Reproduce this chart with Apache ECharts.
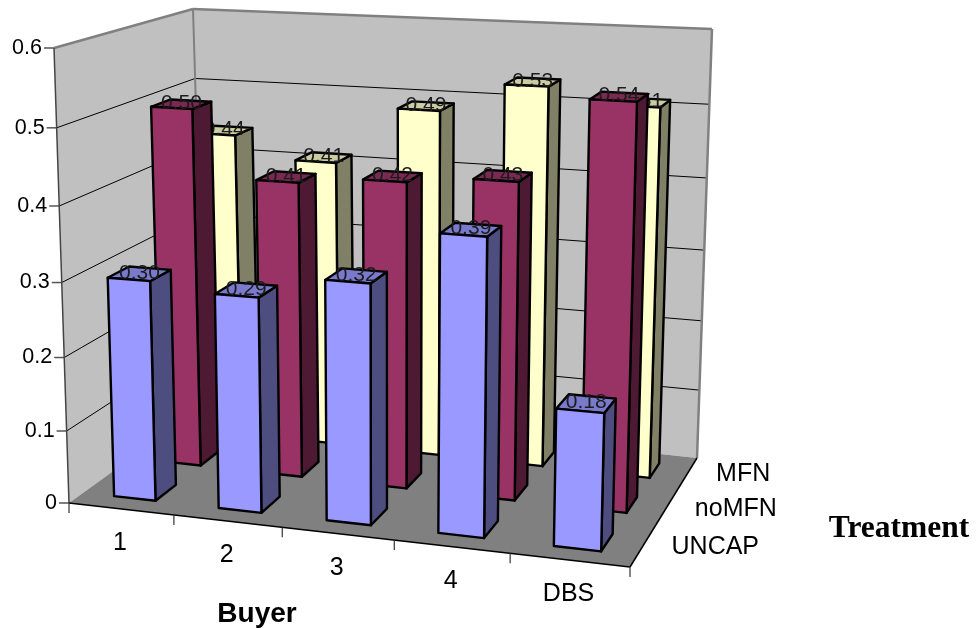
<!DOCTYPE html>
<html>
<head>
<meta charset="utf-8">
<style>html,body{margin:0;padding:0;background:#fff}#chart{width:978px;height:628px}</style>
<script src="https://cdn.jsdelivr.net/npm/echarts@6/dist/echarts.min.js"></script>
</head>
<body>
<div id="chart"></div>
<script>
// Buyer categories, treatments (front to back) and mean values per treatment
const buyers = ['1', '2', '3', '4', 'DBS'];
const treatments = ['UNCAP', 'noMFN', 'MFN'];
const uncapValues = [0.30, 0.29, 0.32, 0.39, 0.18];
const noMfnValues = [0.50, 0.41, 0.42, 0.43, 0.54];
const mfnValues = [0.44, 0.41, 0.49, 0.53, 0.51];
const valueTicks = [0, 0.1, 0.2, 0.3, 0.4, 0.5, 0.6];

// Screen corners of the 3D plot box: [buyer end][height][depth]
const box = [
  [[[69, 503], [205, 405]], [[54, 48], [193, 9]]],
  [[[630, 567], [697, 458]], [[642, 77], [712, 29]]]
];
const persp = { x: -0.08, y: -0.06, z: 0.15 };

// Perspective-weighted projection of a unit-cube point (t along buyers, h up, d back)
function project(t, h, d) {
  let sx = 0, sy = 0, sw = 0;
  for (let i = 0; i < 2; i++) for (let j = 0; j < 2; j++) for (let k = 0; k < 2; k++) {
    const b = (i ? t : 1 - t) * (j ? h : 1 - h) * (k ? d : 1 - d);
    const w = b * (1 + persp.x * i) * (1 + persp.y * j) * (1 + persp.z * k);
    sx += box[i][j][k][0] * w; sy += box[i][j][k][1] * w; sw += w;
  }
  return [sx / sw, sy / sw];
}

const font = (size, weight, family) =>
  `${weight || 'normal'} ${size}px ${family || '"Liberation Sans", Arial, sans-serif'}`;

function text(str, x, y, size, opts) {
  opts = opts || {};
  return {
    type: 'text',
    style: {
      text: str, x, y,
      fill: opts.fill || '#000',
      font: font(size, opts.weight, opts.family),
      align: opts.align || 'center',
      verticalAlign: 'middle'
    }
  };
}
const poly = (points, fill, stroke, lw) => ({
  type: 'polygon',
  shape: { points },
  style: { fill, stroke: stroke || 'none', lineWidth: lw || 0, lineJoin: 'round' }
});
const line = (a, b, stroke, lw) => ({
  type: 'line',
  shape: { x1: a[0], y1: a[1], x2: b[0], y2: b[1] },
  style: { stroke, lineWidth: lw }
});

const heightOf = (api, v) => 1 - api.coord([0, v])[1] / api.getHeight();
const buyerT = (api, i) => api.coord([i, 0])[0] / api.getWidth();

function renderFrame(params, api) {
  const c = [];
  const P = project;
  c.push(poly([P(0,0,0), P(0,1,0), P(0,1,1), P(0,0,1)], '#c0c0c0'));
  c.push(poly([P(0,0,1), P(0,1,1), P(1,1,1), P(1,0,1)], '#c0c0c0'));
  c.push(poly([P(0,0,0), P(0,0,1), P(1,0,1), P(1,0,0)], '#808080'));

  valueTicks.forEach(v => {
    const h = heightOf(api, v);
    const front = P(0, h, 0);
    if (v > 0 && v < 0.6) {
      c.push(line(front, P(0, h, 1), '#000', 1));
      c.push(line(P(0, h, 1), P(1, h, 1), '#000', 1));
    }
    c.push(line([front[0] - 10, front[1]], front, '#555', 1.5));
    c.push(text(v === 0 ? '0' : v.toFixed(1), front[0] - 12, front[1], 21.5, { align: 'right' }));
  });

  c.push(line(P(0,1,0), P(0,1,1), '#808080', 2.5));
  c.push(line(P(0,1,1), P(1,1,1), '#808080', 2.5));
  c.push(line(P(0,0,1), P(0,1,1), '#808080', 2));
  c.push(line(P(1,0,1), P(1,1,1), '#808080', 2.5));
  c.push(line(P(0,0,0), P(0,1,0), '#444', 1.5));
  c.push(line(P(0,0,0), P(1,0,0), '#000', 1.5));
  c.push(line(P(1,0,0), P(1,0,1), '#000', 1.5));

  for (let i = 0; i <= buyers.length; i++) {
    const p = P(i / buyers.length, 0, 0);
    c.push(line(p, [p[0], p[1] + 10], '#333', 1.2));
  }
  buyers.forEach((name, i) => {
    const p = P(buyerT(api, i), 0, 0);
    c.push(text(name, p[0] - 1, p[1] + 34.5, 25));
  });
  treatments.forEach((name, i) => {
    const p = P(1, 0, (i + 0.5) / treatments.length);
    c.push(text(name, p[0] + 29, p[1], 25, { align: 'left' }));
  });
  c.push(text('Buyer', 257, 614, 28, { weight: 'bold' }));
  c.push(text('Treatment', 899, 529, 31.5, { weight: 'bold', family: '"Liberation Serif", "Times New Roman", serif' }));
  return { type: 'group', children: c };
}

// One 3D column: front, top and right faces with the value printed over the top
function barRenderer(row, colors) {
  return function (params, api) {
    const band = api.size([1, 0])[0] / api.getWidth();
    const v = api.value(1);
    const tc = buyerT(api, api.value(0));
    const t0 = tc - band * 0.2, t1 = tc + band * 0.2;
    const cell = 1 / treatments.length;
    const d0 = (row + 0.28) * cell, d1 = (row + 0.72) * cell;
    const h = heightOf(api, v);
    const P = project;
    const kids = [
      poly([P(t1,0,d0), P(t1,h,d0), P(t1,h,d1), P(t1,0,d1)], colors[1], '#000', 2.4),
      poly([P(t0,h,d0), P(t0,h,d1), P(t1,h,d1), P(t1,h,d0)], colors[2], '#000', 2.4),
      poly([P(t0,0,d0), P(t0,h,d0), P(t1,h,d0), P(t1,0,d0)], colors[0], '#000', 2.4)
    ];
    const top = P(tc, h, (d0 + d1) / 2);
    kids.push(text(v.toFixed(2), top[0], top[1] - 1, 21, { fill: '#1c1c1c' }));
    return { type: 'group', children: kids };
  };
}

const barSeries = (row, values, colors) => ({
  type: 'custom',
  name: treatments[row],
  coordinateSystem: 'cartesian2d',
  data: values.map((v, i) => [i, v]),
  encode: { x: 0, y: 1 },
  renderItem: barRenderer(row, colors),
  silent: true,
  clip: false
});

const chart = echarts.init(document.getElementById('chart'), null, { renderer: 'canvas' });
chart.setOption({
  animation: false,
  backgroundColor: '#fff',
  grid: { left: 0, right: 0, top: 0, bottom: 0 },
  xAxis: { type: 'category', data: buyers, show: false },
  yAxis: { type: 'value', min: 0, max: 0.6, interval: 0.1, show: false },
  series: [
    {
      type: 'custom',
      name: 'frame',
      coordinateSystem: 'cartesian2d',
      data: [[0, 0]],
      encode: { x: 0, y: 1 },
      renderItem: renderFrame,
      silent: true,
      clip: false
    },
    barSeries(2, mfnValues, ['#ffffcc', '#808066', '#ccccA3']),
    barSeries(1, noMfnValues, ['#993366', '#4d1933', '#7a2952']),
    barSeries(0, uncapValues, ['#9999ff', '#4d4d80', '#7a7acc'])
  ]
});
</script>
</body>
</html>
